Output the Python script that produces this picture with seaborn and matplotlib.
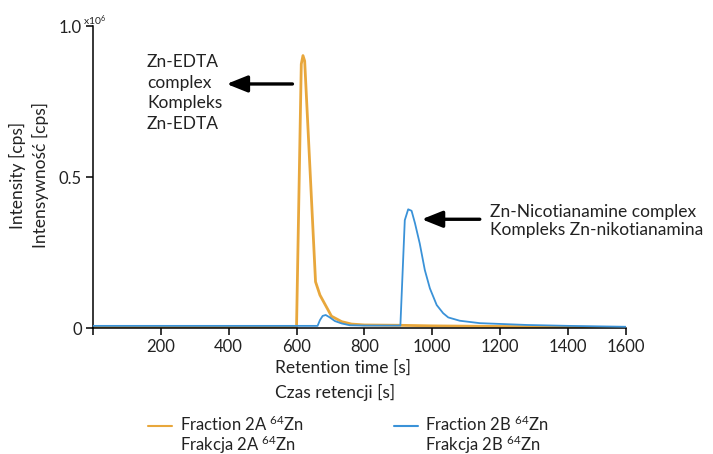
import numpy as np
import pandas as pd
import seaborn as sns
import matplotlib.pyplot as plt
from matplotlib.lines import Line2D

sns.set_theme(style="white")
plt.rcParams['font.family'] = ['Lato', 'DejaVu Sans']
plt.rcParams['mathtext.fontset'] = 'custom'
plt.rcParams['mathtext.rm'] = 'Lato'
plt.rcParams['mathtext.it'] = 'Lato:italic'
plt.rcParams['mathtext.bf'] = 'Lato:bold'

# Retention time [s] and intensity [x10^6 cps]
time_2a = [0, 100, 200, 300, 400, 500, 600, 614, 619, 624, 656, 669, 703,
           733, 762, 800, 900, 1000, 1200, 1400, 1570]
int_2a = [0.003, 0.003, 0.003, 0.003, 0.003, 0.003, 0.003, 0.875, 0.903,
          0.885, 0.154, 0.110, 0.040, 0.022, 0.014, 0.011, 0.010, 0.008,
          0.006, 0.004, 0.002]

time_2b = [0, 200, 400, 600, 662, 669, 677, 686, 698, 713, 733, 757, 800,
           906, 919, 929, 939, 949, 963, 978, 993, 1013, 1032, 1047, 1081,
           1140, 1278, 1400, 1570]
int_2b = [0.008, 0.008, 0.008, 0.008, 0.008, 0.027, 0.041, 0.044, 0.036,
          0.024, 0.016, 0.010, 0.009, 0.009, 0.358, 0.394, 0.389, 0.348,
          0.281, 0.193, 0.132, 0.077, 0.050, 0.036, 0.025, 0.017, 0.011,
          0.008, 0.005]

x_ticks = [0, 200, 400, 600, 800, 1000, 1200, 1400, 1570]
x_tick_labels = ["", "200", "400", "600", "800", "1000", "1200", "1400", "1600"]
y_ticks = [0, 0.5, 1.0]
y_tick_labels = ["0", "0.5", "1.0"]

label_2a = ["Fraction 2A $^{64}$Zn", "Frakcja 2A $^{64}$Zn"]
label_2b = ["Fraction 2B $^{64}$Zn", "Frakcja 2B $^{64}$Zn"]

orange = "#E8A73C"
blue = "#3A92D8"
ink = "#222222"
fs = 12.5
fs_leg = 12

df_a = pd.DataFrame({"time": time_2a, "intensity": int_2a})
df_b = pd.DataFrame({"time": time_2b, "intensity": int_2b})

W, H = 713, 454
fig = plt.figure(figsize=(W / 100, H / 100), dpi=100)
ax = fig.add_axes([0.1303, 0.2769, 0.7473, 0.6652])

sns.lineplot(data=df_b, x="time", y="intensity", ax=ax, color=blue, lw=1.3,
             estimator=None, sort=False, zorder=3)
sns.lineplot(data=df_a, x="time", y="intensity", ax=ax, color=orange, lw=2.0,
             estimator=None, sort=False, zorder=2)

ax.set_xlim(0, 1570)
ax.set_ylim(0, 1.0)
ax.set_xticks(x_ticks)
ax.set_xticklabels(x_tick_labels)
ax.set_yticks(y_ticks)
ax.set_yticklabels(y_tick_labels)
ax.set_xlabel("")
ax.set_ylabel("")
for side in ("top", "right"):
    ax.spines[side].set_visible(False)
for side in ("left", "bottom"):
    ax.spines[side].set_color("black")
    ax.spines[side].set_linewidth(1.1)
ax.tick_params(axis="both", which="major", direction="out", length=5,
               width=1.1, color="black", labelsize=12, labelcolor=ink,
               pad=3, left=True, bottom=True)

# axis titles
fig.text(275 / W, 1 - 368 / H, "Retention time [s]", fontsize=fs,
         va="center", ha="left", color=ink)
fig.text(275 / W, 1 - 392 / H, "Czas retencji [s]", fontsize=fs,
         va="center", ha="left", color=ink)
fig.text(29 / W, 1 - 175 / H, "Intensity [cps]\nIntensywność [cps]",
         rotation=90, fontsize=fs, va="center", ha="center",
         multialignment="center", linespacing=1.4, color=ink)
fig.text(83 / W, 1 - 21 / H, "x10$^{6}$", fontsize=7.5, va="center",
         ha="left", color=ink)

# peak annotations
arrow_kw = dict(arrowstyle="-|>,head_length=1.25,head_width=0.5",
                color="black", lw=2.4, mutation_scale=10, shrinkA=0, shrinkB=0)
ax.annotate("", xy=(394, 0.809), xytext=(588, 0.809), arrowprops=arrow_kw)
ax.annotate("", xy=(969, 0.361), xytext=(1140, 0.361), arrowprops=arrow_kw)
fig.text(147 / W, 1 - 93 / H, "Zn-EDTA\ncomplex\nKompleks\nZn-EDTA",
         fontsize=fs, va="center", ha="left", linespacing=1.38, color=ink)
fig.text(490 / W, 1 - 221 / H,
         "Zn-Nicotianamine complex\nKompleks Zn-nikotianamina",
         fontsize=fs, va="center", ha="left", linespacing=1.12, color=ink)

# legend: English names next to the handles, Polish names underneath
handles = [Line2D([], [], color=orange, lw=1.5), Line2D([], [], color=blue, lw=1.5)]
leg = ax.legend(handles, [label_2a[0], label_2b[0]], loc="upper left",
                bbox_to_anchor=(148 / W, 1 - 415 / H),
                bbox_transform=fig.transFigure, ncol=2, frameon=False,
                fontsize=fs_leg, handlelength=1.45, handletextpad=0.45,
                columnspacing=5.4, borderpad=0, borderaxespad=0)
for t in leg.get_texts():
    t.set_color(ink)

fig.canvas.draw()
for t, pl in zip(leg.get_texts(), [label_2a[1], label_2b[1]]):
    bb = t.get_window_extent()
    fig.text(bb.x0 / W, bb.y0 / H - 0.0465, pl, fontsize=fs_leg, ha="left",
             va="bottom", color=ink)

fig.savefig("out.png", dpi=100)
